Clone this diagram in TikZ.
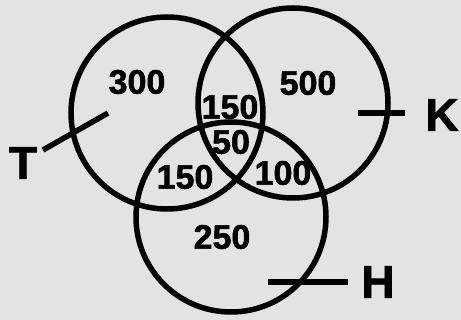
\documentclass[tikz,border=0pt]{standalone}
\usepackage{fontspec}
\setmainfont{Liberation Sans}[BoldFeatures={FakeBold=1.6}]
\tikzset{
  ring/.style={line width=5.5pt},
  tick/.style={line width=5.5pt},
  num/.style={font=\fontsize{34}{34}\selectfont\bfseries, inner sep=0pt},
  setname/.style={font=\fontsize{46}{46}\selectfont\bfseries, inner sep=0pt}
}
\begin{document}
\begin{tikzpicture}[x=1pt,y=-1pt]
    \fill[gray!22] (0,0) rectangle (461,320);
    \useasboundingbox (0,0) rectangle (461,320);
    % the three sets
    \coordinate (cT) at (167,113);
    \coordinate (cK) at (293,103);
    \coordinate (cH) at (231,217);
    \draw[ring] (cT) circle (96);
    \draw[ring] (cK) circle (95);
    \draw[ring] (cH) circle (95);
    % region counts
    \node[num] (n300) at (137,82) {300};
    \node[num] (n500) at (308,83) {500};
    \node[num] (nTK) at (230,107) {150};
    \node[num] (nTKH) at (231,142) {50};
    \node[num] (nTH) at (185,177) {150};
    \node[num] (nKH) at (283,173) {100};
    \node[num] (n250) at (222,237) {250};
    % set names
    \node[setname] (T) at (23,163) {T};
    \node[setname] (K) at (442,115) {K};
    \node[setname] (H) at (378,282) {H};
    \coordinate (t1) at (43,150);
    \coordinate (t2) at (108,113);
    \coordinate (k1) at (358,113);
    \coordinate (k2) at (405,113);
    \coordinate (h1) at (268,282);
    \coordinate (h2) at (348,282);
    \draw[tick] (t1) -- (t2);
    \draw[tick] (k1) -- (k2);
    \draw[tick] (h1) -- (h2);
\end{tikzpicture}
\end{document}
